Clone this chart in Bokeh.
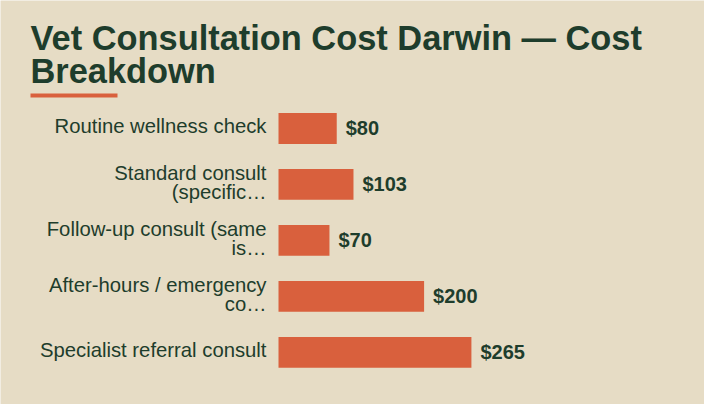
from bokeh.plotting import figure
from bokeh.models import Range1d, Label, BoxAnnotation, ColumnDataSource
from bokeh.core.properties import value
from bokeh.embed import file_html
from bokeh.resources import INLINE

categories = [
    "Routine wellness check",
    "Standard consult\n(specific…",
    "Follow-up consult (same\nis…",
    "After-hours / emergency\nco…",
    "Specialist referral consult",
]
costs = [80, 103, 70, 200, 265]
cost_labels = ["$80", "$103", "$70", "$200", "$265"]
title_lines = ["Vet Consultation Cost Darwin — Cost", "Breakdown"]

BG = "#e6dcc5"
BAR = "#d9603d"
INK = "#1e3d2c"
FONT = "Liberation Sans"

W, H = 704, 404

rows = list(range(len(categories)))
src = ColumnDataSource(dict(row=rows, cat=categories, cost=costs, lab=cost_labels))

p = figure(
    width=W, height=H,
    x_range=Range1d(-381.9, 585.2),
    y_range=Range1d(4.93, -2.286),
    x_axis_location=None, y_axis_location=None,
    output_backend="svg", toolbar_location=None,
    min_border=0,
    background_fill_color=BG, border_fill_color=BG, outline_line_color=None,
)
p.xgrid.visible = False
p.ygrid.visible = False

p.hbar(y="row", right="cost", left=0, height=0.55, source=src,
       fill_color=BAR, line_color=None)
p.text(x="cost", y="row", text="lab", source=src, x_offset=9,
       text_baseline="middle", text_align="left",
       text_font=value(FONT), text_font_style="bold", text_font_size="20px",
       text_color=INK)
p.text(x=0, y="row", text="cat", source=src, x_offset=-12, y_offset=-2,
       text_baseline="middle", text_align="right",
       text_font=value(FONT), text_font_size="20.3px", text_line_height=0.85,
       text_color=INK)

for line, yb in zip(title_lines, [H - 37.5, H - 70]):
    p.add_layout(Label(x=30, y=yb, x_units="screen", y_units="screen",
                       text=line, text_font=FONT, text_font_style="bold",
                       text_font_size="34.4px", text_color=INK,
                       text_baseline="alphabetic"))
p.add_layout(BoxAnnotation(left=30, right=117, top=H - 93, bottom=H - 97,
                           left_units="screen", right_units="screen",
                           top_units="screen", bottom_units="screen",
                           fill_color=BAR, fill_alpha=1, line_color=None))

open("out.html", "w").write(file_html(p, INLINE))
